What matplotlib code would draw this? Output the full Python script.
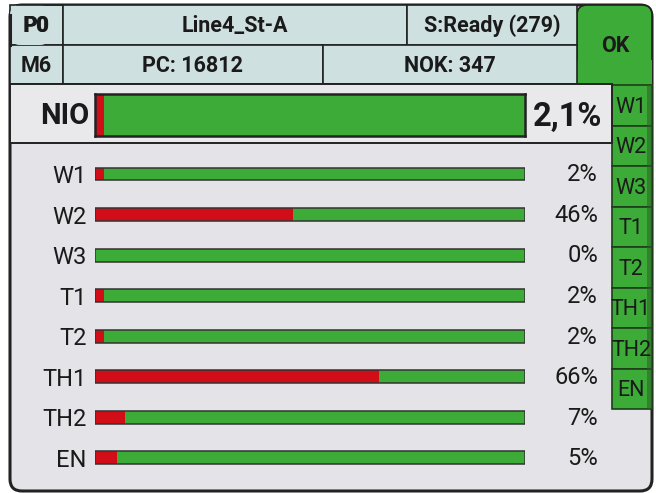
import matplotlib.pyplot as plt
from matplotlib.patches import FancyBboxPatch, Rectangle
import numpy as np

stations = ["W1", "W2", "W3", "T1", "T2", "TH1", "TH2", "EN"]
nok_pct = [2, 46, 0, 2, 2, 66, 7, 5]
nio_pct = 2.1
nio_label = "2,1%"
header_top = ["P0", "Line4_St-A", "S:Ready (279)"]
header_bottom = ["M6", "PC: 16812", "NOK: 347"]
status = "OK"

RED = "#d10d17"
GREEN = "#3dab37"
HEAD = "#cfe0e0"
PANEL = "#e4e4e8"
DARK = "#1a1a1a"
FONT = ["Roboto", "DejaVu Sans"]

W, H = 656, 493
fig = plt.figure(figsize=(W / 100, H / 100), dpi=100)
fig.patch.set_facecolor("white")

# fond en pixels
bg = fig.add_axes([0, 0, 1, 1])
bg.set_xlim(0, W)
bg.set_ylim(H, 0)
bg.axis("off")

bg.add_patch(FancyBboxPatch((10, 5), 642, 486, boxstyle="round,pad=0,rounding_size=12",
                            fc=PANEL, ec="#222222", lw=2.2))

# colonne verte (OK + onglets)
bg.add_patch(FancyBboxPatch((577, 5), 75, 80, boxstyle="round,pad=0,rounding_size=10",
                            fc=GREEN, ec="#222222", lw=1.2))
bg.add_patch(Rectangle((577, 60), 75, 25, fc=GREEN, ec="none"))
bg.text(615, 46, status, ha="center", va="center", fontsize=15.5, fontweight="bold",
        family=FONT, color=DARK)

tab_top, tab_h = 85, 40.5
for i, s in enumerate(stations):
    y0 = tab_top + i * tab_h
    bg.add_patch(Rectangle((612, y0), 40, tab_h, fc=GREEN, ec="#1d3d1a", lw=1.2))
    bg.text(631, y0 + tab_h / 2 + 2, s, ha="center", va="center", fontsize=15.5,
            family=FONT, color=DARK)
bg.add_patch(Rectangle((647, 85), 5, 8 * tab_h, fc="#2c5e28", ec="none", alpha=0.55))

# en-tête
cols_top = [10, 63, 407, 577]
cols_bot = [10, 63, 323, 577]
for row, (labels, cols, y0) in enumerate([(header_top, cols_top, 5), (header_bottom, cols_bot, 45)]):
    for j, lab in enumerate(labels):
        x0, x1 = cols[j], cols[j + 1]
        bg.add_patch(Rectangle((x0, y0), x1 - x0, 40 if row == 0 else 39, fc=HEAD, ec="#222222", lw=1.2))
        bg.text((x0 + x1) / 2, y0 + 21, lab, ha="center", va="center", fontsize=15.5,
                fontweight="bold", family=FONT, color=DARK)
bg.add_patch(FancyBboxPatch((10, 5), 40, 40, boxstyle="round,pad=0,rounding_size=10",
                            fc=HEAD, ec="none"))
bg.plot([10, 10], [15, 45], color="#222222", lw=2.2)
bg.plot([17, 63], [5, 5], color="#222222", lw=1.2)
bg.text(36, 26, header_top[0], ha="center", va="center", fontsize=15.5,
        fontweight="bold", family=FONT, color=DARK)

# bandeau NIO
bg.add_patch(Rectangle((10, 84), 602, 59, fc="#e9e9ec", ec="#222222", lw=1.4))
bg.text(89, 116, "NIO", ha="right", va="center", fontsize=21, fontweight="bold",
        family=FONT, color=DARK)
bg.text(568, 117, nio_label, ha="center", va="center", fontsize=23.5, fontweight="bold",
        family=FONT, color=DARK)

ax_nio = fig.add_axes([95 / W, 1 - 136 / H, 430 / W, 42 / H])
ax_nio.barh([0], [nio_pct], height=1, color=RED, edgecolor="none")
ax_nio.barh([0], [100 - nio_pct], left=[nio_pct], height=1, color=GREEN, edgecolor="none")
ax_nio.set_xlim(0, 100)
ax_nio.set_ylim(-0.5, 0.5)
ax_nio.set_xticks([])
ax_nio.set_yticks([])
for sp in ax_nio.spines.values():
    sp.set_color("#222222")
    sp.set_linewidth(1.8)

# barres par station
row_h = 40.57
top = 174 - row_h / 2
ax = fig.add_axes([95 / W, 1 - (top + 8 * row_h) / H, 430 / W, 8 * row_h / H])
ax.patch.set_alpha(0)
y = np.arange(len(stations))
ok = [100 - v for v in nok_pct]
ax.barh(y, nok_pct, height=0.32, color=RED, edgecolor="none")
ax.barh(y, ok, left=nok_pct, height=0.32, color=GREEN, edgecolor="none")
ax.barh(y, [100] * len(y), height=0.32, color="none", edgecolor="#333333", lw=1.1)
ax.set_xlim(0, 100)
ax.set_ylim(len(stations) - 0.5, -0.5)
ax.set_xticks([])
ax.set_yticks(y)
ax.set_yticklabels(stations, fontsize=17, family=FONT, color=DARK)
ax.tick_params(axis="y", length=0, pad=6)
for sp in ax.spines.values():
    sp.set_visible(False)
for yi, v in zip(y, nok_pct):
    ax.text(1.17, yi + 0.02, f"{v}%", transform=ax.get_yaxis_transform(), ha="right",
            va="center", fontsize=17, family=FONT, color=DARK)

fig.savefig("out.png", dpi=100, facecolor="white")
